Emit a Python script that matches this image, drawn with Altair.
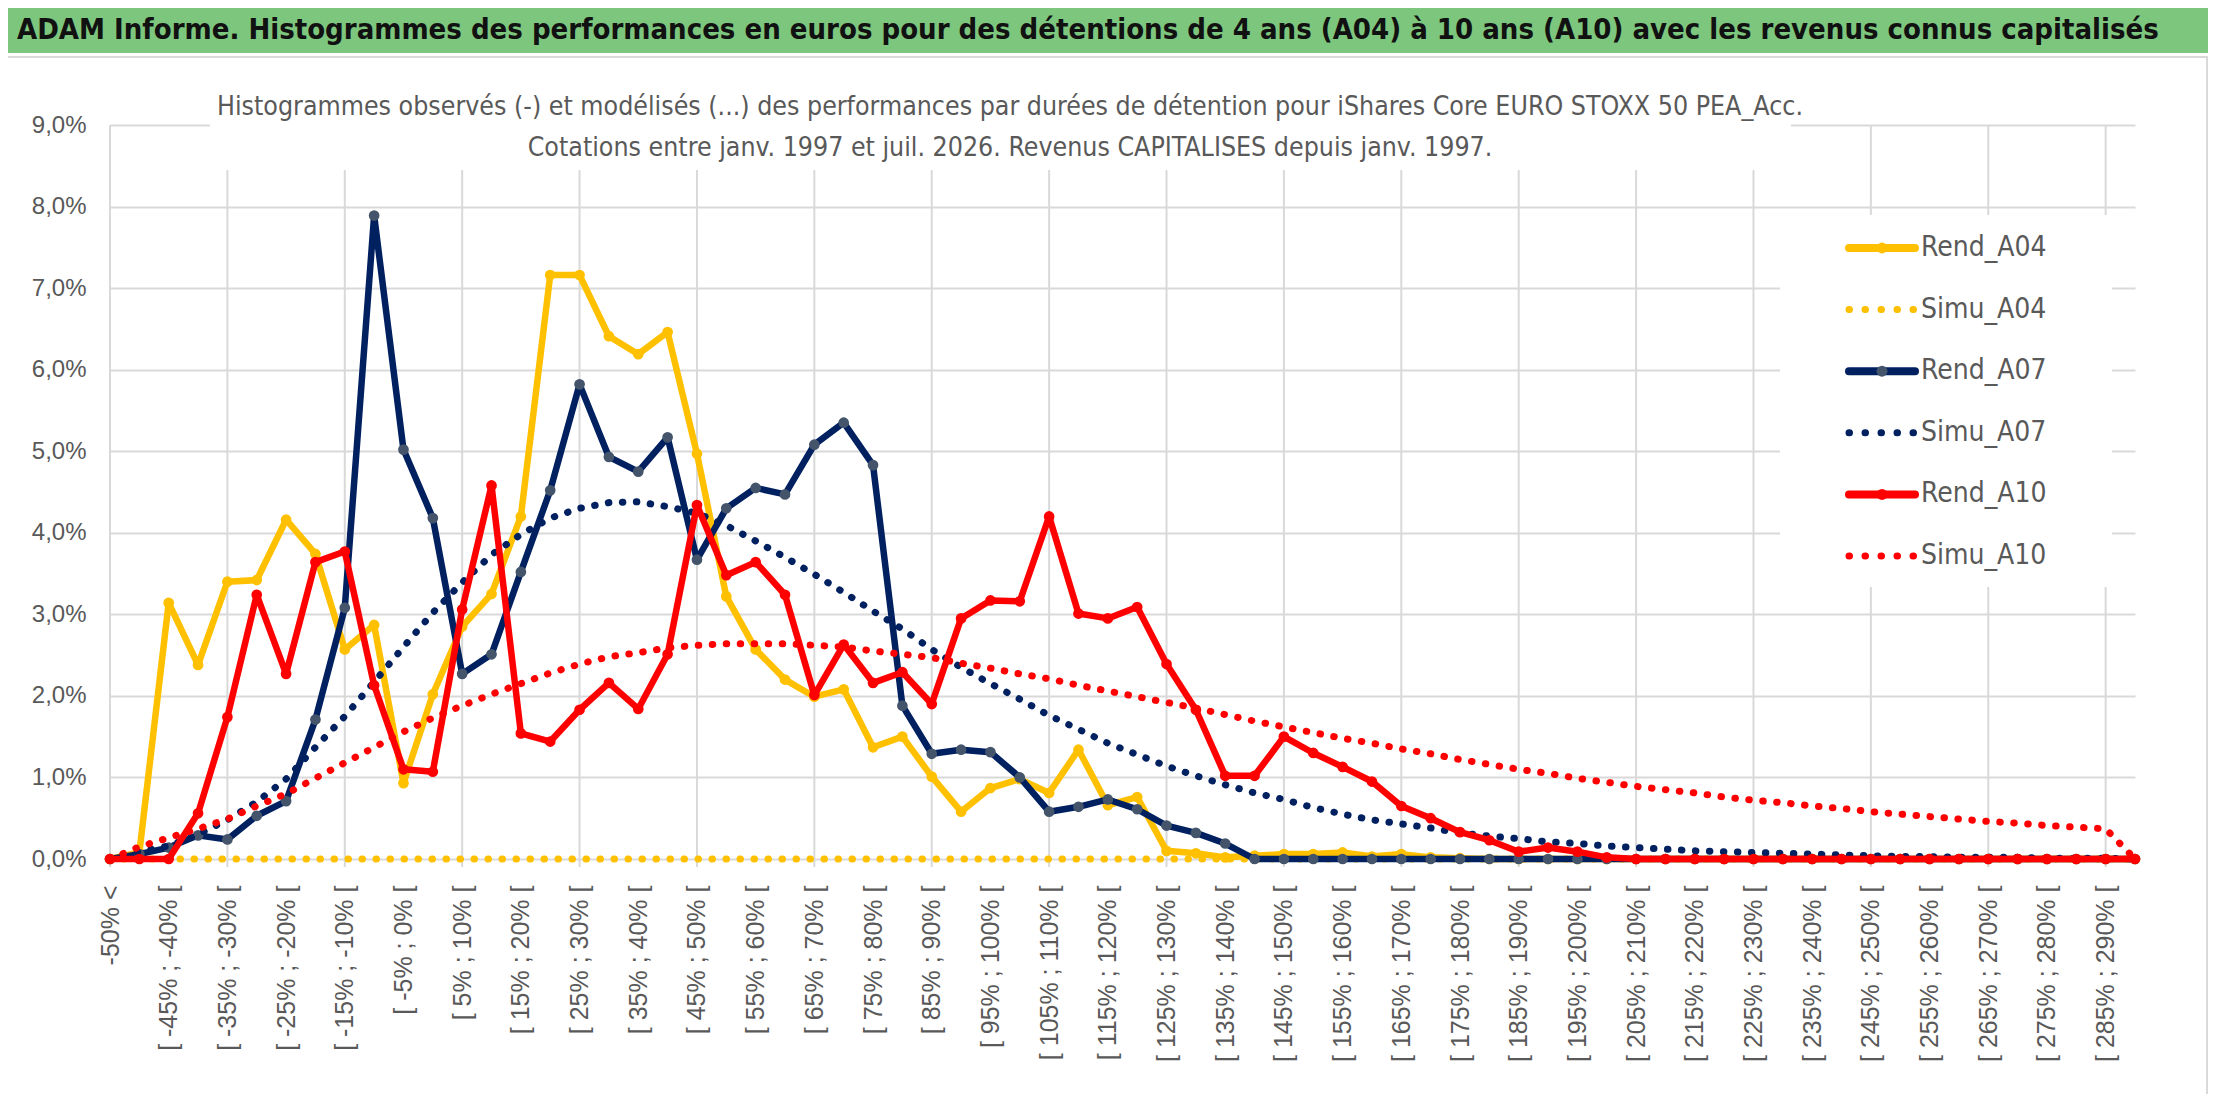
import pandas as pd
import altair as alt

# x categories: "-50% <" then 5-point buckets up to 295%
bins = list(range(-50, 295, 5))
categories = ["-50% <"] + [f"[ {a}% ; {a + 5}% [" for a in bins]

# values in %, one per category
rend_a04 = [0.0, 0.08, 3.14, 2.38, 3.40, 3.42, 4.16, 3.74, 2.57, 2.87,
            0.93, 2.02, 2.85, 3.25, 4.20, 7.16, 7.16, 6.41, 6.19, 6.46,
            4.97, 3.22, 2.57, 2.20, 1.99, 2.08, 1.37, 1.50, 1.01, 0.58,
            0.87, 0.98, 0.81, 1.34, 0.66, 0.76, 0.10, 0.07, 0.02, 0.04,
            0.06, 0.06, 0.08, 0.03, 0.06, 0.02, 0.01, 0.0, 0.0, 0.0,
            0.0, 0.0, 0.0, 0.0, 0.0, 0.0, 0.0, 0.0, 0.0, 0.0,
            0.0, 0.0, 0.0, 0.0, 0.0, 0.0, 0.0, 0.0, 0.0, 0.0]
simu_a04 = [0.0] * 70
rend_a07 = [0.0, 0.06, 0.14, 0.29, 0.24, 0.53, 0.71, 1.71, 3.08, 7.89,
            5.02, 4.18, 2.27, 2.51, 3.52, 4.52, 5.82, 4.93, 4.75, 5.17,
            3.67, 4.30, 4.55, 4.47, 5.08, 5.35, 4.83, 1.88, 1.29, 1.34,
            1.31, 1.00, 0.58, 0.64, 0.73, 0.61, 0.41, 0.32, 0.19, 0.0,
            0.0, 0.0, 0.0, 0.0, 0.0, 0.0, 0.0, 0.0, 0.0, 0.0,
            0.0, 0.0, 0.0, 0.0, 0.0, 0.0, 0.0, 0.0, 0.0, 0.0,
            0.0, 0.0, 0.0, 0.0, 0.0, 0.0, 0.0, 0.0, 0.0, 0.0]
simu_a07 = [0.0, 0.09, 0.16, 0.30, 0.48, 0.70, 0.98, 1.37, 1.75, 2.17,
            2.60, 3.02, 3.39, 3.73, 3.98, 4.18, 4.30, 4.37, 4.38, 4.32,
            4.24, 4.09, 3.90, 3.70, 3.49, 3.27, 3.04, 2.82, 2.57, 2.35,
            2.15, 1.96, 1.76, 1.59, 1.42, 1.28, 1.14, 1.02, 0.91, 0.81,
            0.73, 0.63, 0.55, 0.48, 0.43, 0.38, 0.32, 0.28, 0.25, 0.21,
            0.19, 0.16, 0.14, 0.12, 0.10, 0.09, 0.08, 0.07, 0.06, 0.05,
            0.04, 0.03, 0.03, 0.02, 0.02, 0.02, 0.01, 0.01, 0.01, 0.0]
rend_a10 = [0.0, 0.0, 0.0, 0.56, 1.74, 3.24, 2.27, 3.64, 3.77, 2.13,
            1.10, 1.07, 3.06, 4.58, 1.54, 1.44, 1.83, 2.16, 1.84, 2.51,
            4.34, 3.48, 3.64, 3.24, 2.01, 2.63, 2.16, 2.29, 1.90, 2.95,
            3.17, 3.16, 4.20, 3.01, 2.95, 3.09, 2.39, 1.83, 1.02, 1.02,
            1.50, 1.30, 1.13, 0.95, 0.65, 0.50, 0.33, 0.23, 0.09, 0.14,
            0.09, 0.02, 0.0, 0.0, 0.0, 0.0, 0.0, 0.0, 0.0, 0.0,
            0.0, 0.0, 0.0, 0.0, 0.0, 0.0, 0.0, 0.0, 0.0, 0.0]
simu_a10 = [0.0, 0.15, 0.26, 0.37, 0.49, 0.65, 0.80, 0.99, 1.18, 1.37,
            1.56, 1.73, 1.88, 2.02, 2.15, 2.28, 2.39, 2.48, 2.53, 2.59,
            2.62, 2.64, 2.64, 2.64, 2.62, 2.60, 2.55, 2.51, 2.47, 2.40,
            2.34, 2.27, 2.21, 2.13, 2.06, 1.99, 1.92, 1.85, 1.77, 1.69,
            1.62, 1.55, 1.48, 1.42, 1.35, 1.29, 1.22, 1.16, 1.10, 1.05,
            0.99, 0.94, 0.89, 0.85, 0.81, 0.76, 0.72, 0.69, 0.65, 0.62,
            0.58, 0.55, 0.52, 0.49, 0.46, 0.44, 0.41, 0.39, 0.37, 0.0]

series_names = ["Rend_A04", "Simu_A04", "Rend_A07", "Simu_A07", "Rend_A10", "Simu_A10"]
series_values = [rend_a04, simu_a04, rend_a07, simu_a07, rend_a10, simu_a10]

main_title = ("ADAM Informe. Histogrammes des performances en euros pour des détentions "
              "de 4 ans (A04) à 10 ans (A10) avec les revenus connus capitalisés")
sub_title = ["Histogrammes observés (-) et modélisés (...) des performances par durées "
             "de détention pour iShares Core EURO STOXX 50 PEA_Acc.",
             "Cotations entre janv. 1997 et juil. 2026. Revenus CAPITALISES depuis janv. 1997."]

# styles
line_color = {"A04": "#FFC000", "A07": "#002060", "A10": "#FF0000"}
marker_color = {"A04": "#FFC000", "A07": "#44546A", "A10": "#FF0000"}
GRID = "#D9D9D9"
TXT = "#595959"
NARROW = "DejaVu Sans Condensed, sans-serif"
REG = "Liberation Sans, Arial, sans-serif"

W, H = 2025, 734
one = pd.DataFrame({"a": [0]})

x_enc = alt.X("cat:N", sort=categories,
              scale=alt.Scale(type="point", domain=categories, padding=0),
              axis=alt.Axis(values=categories[::2], labelAngle=-90, labelFont=REG,
                            labelFontSize=25, labelColor=TXT, labelPadding=26,
                            ticks=False, domain=False, grid=False, title=None,
                            labelOverlap=False, labelLimit=400))
y_enc = alt.Y("value:Q", scale=alt.Scale(domain=[0, 9], nice=False),
              axis=alt.Axis(values=list(range(10)), ticks=False, domain=False,
                            gridColor=GRID, gridWidth=2, labelFont=REG, labelFontSize=24,
                            labelColor=TXT, labelPadding=24, title=None,
                            labelExpr="replace(format(datum.value, '.1f'), '.', ',') + '%'"))


def rect(x1, x2, y1, y2, color):
    return alt.Chart(one).mark_rect(color=color).encode(
        x=alt.value(x1), x2=alt.value(x2), y=alt.value(y1), y2=alt.value(y2))


def text(txt, x, y, **kw):
    return alt.Chart(one).mark_text(text=txt, baseline="middle", **kw).encode(
        x=alt.value(x), y=alt.value(y))


layers = []

# vertical gridlines and tick marks every 4 categories
grid_df = pd.DataFrame({"cat": categories[::4]})
layers.append(alt.Chart(grid_df).mark_rule(color=GRID, strokeWidth=2).encode(x=x_enc))
layers.append(alt.Chart(grid_df).mark_rule(color=GRID, strokeWidth=2).encode(
    x=x_enc, y=alt.value(H), y2=alt.value(H + 8)))

# title bar
layers.append(rect(-102, 2098, -117, -72, "#7DC67E"))
layers.append(rect(-102, 2098, -69, -67, GRID))
layers.append(rect(2096, 2098, -67, 969, GRID))
layers.append(text(main_title, -93, -95, align="left", font=NARROW, fontSize=29,
                   fontWeight="bold", color="#111111"))

# white boxes behind subtitle and legend
layers.append(rect(100, 1681, -10, 45, "white"))
layers.append(rect(1670, 2002, 90, 462, "white"))
layers.append(text(sub_title[0], 900, -18, align="center", font=NARROW, fontSize=26.5, color=TXT))
layers.append(text(sub_title[1], 900, 23, align="center", font=NARROW, fontSize=26.5, color=TXT))

# series
for name, vals in zip(series_names, series_values):
    key = name[-3:]
    df = pd.DataFrame({"k": list(range(len(categories))), "cat": categories, "value": vals})
    base = alt.Chart(df).encode(x=x_enc, y=y_enc, order="k:Q")
    if name.startswith("Rend"):
        layers.append(base.mark_line(color=line_color[key], strokeWidth=6.5,
                                     strokeJoin="round", strokeCap="round"))
        layers.append(base.mark_circle(color=marker_color[key], size=115, opacity=1))
    else:
        layers.append(base.mark_line(color=line_color[key], strokeWidth=7,
                                     strokeDash=[0.5, 13.5], strokeCap="round"))

# legend
for i, name in enumerate(series_names):
    key = name[-3:]
    ly = 123 + 61.6 * i
    if name.startswith("Rend"):
        layers.append(alt.Chart(one).mark_rule(color=line_color[key], strokeWidth=8,
                                               strokeCap="round").encode(
            x=alt.value(1739), x2=alt.value(1805), y=alt.value(ly)))
        layers.append(alt.Chart(one).mark_circle(color=marker_color[key], size=120,
                                                 opacity=1).encode(
            x=alt.value(1772), y=alt.value(ly)))
    else:
        layers.append(alt.Chart(one).mark_rule(color=line_color[key], strokeWidth=7,
                                               strokeDash=[0.5, 15.5],
                                               strokeCap="round").encode(
            x=alt.value(1739), x2=alt.value(1805), y=alt.value(ly)))
    layers.append(text(name, 1811, ly, align="left", font=NARROW, fontSize=28, color=TXT))

chart = alt.layer(*layers).properties(
    width=W, height=H,
    autosize=alt.AutoSizeParams(type="none"),
    padding={"left": 102, "top": 117, "right": 73, "bottom": 235},
    background="white",
).configure_view(stroke=None)

chart.save("out.html", embed_options={"renderer": "svg", "actions": False})
